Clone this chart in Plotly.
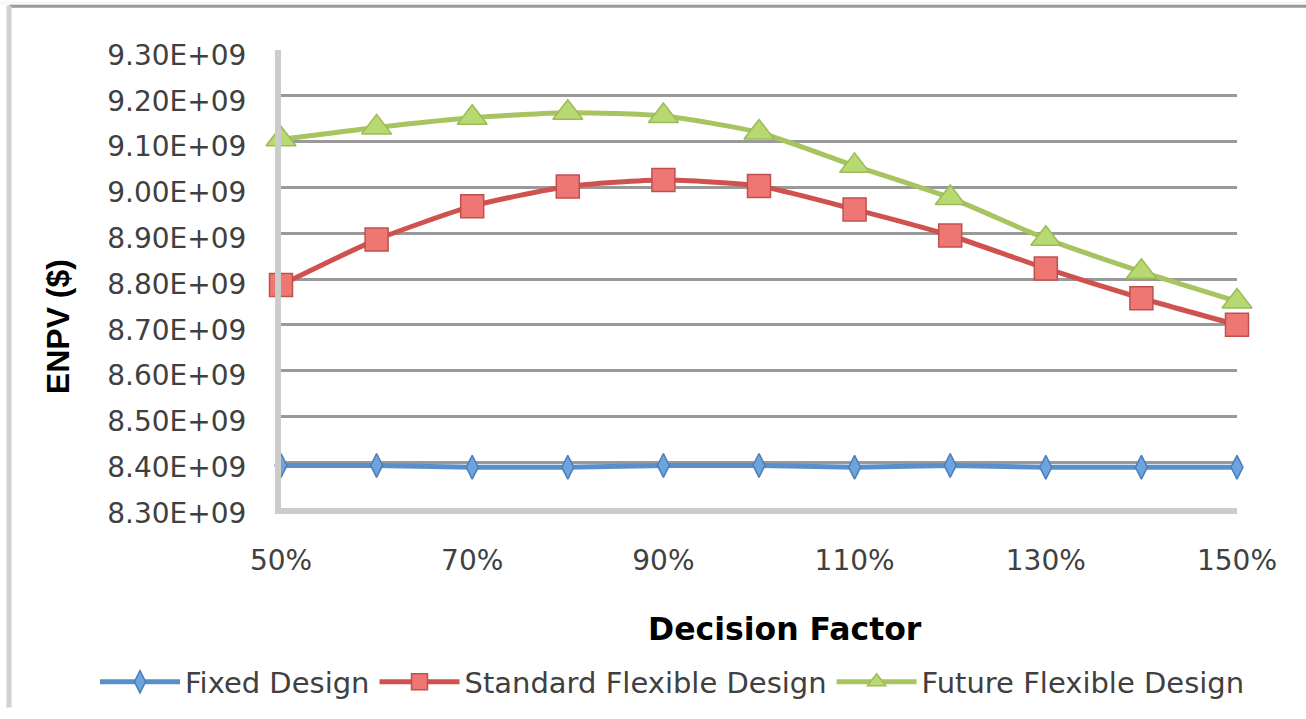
import plotly.graph_objects as go

# ---- data ----
decision_factor = [50, 60, 70, 80, 90, 100, 110, 120, 130, 140, 150]
fixed_design = [8.393e9, 8.393e9, 8.389e9, 8.389e9, 8.393e9, 8.393e9, 8.389e9, 8.393e9, 8.389e9, 8.389e9, 8.389e9]
standard_flexible = [8.787e9, 8.886e9, 8.959e9, 9.002e9, 9.016e9, 9.003e9, 8.952e9, 8.895e9, 8.823e9, 8.758e9, 8.700e9]
future_flexible = [9.105e9, 9.131e9, 9.152e9, 9.163e9, 9.156e9, 9.120e9, 9.047e9, 8.977e9, 8.888e9, 8.816e9, 8.751e9]

x_tick_vals = [50, 70, 90, 110, 130, 150]
x_tick_text = ["50%", "70%", "90%", "110%", "130%", "150%"]
y_tick_vals = [8.3e9, 8.4e9, 8.5e9, 8.6e9, 8.7e9, 8.8e9, 8.9e9, 9.0e9, 9.1e9, 9.2e9, 9.3e9]
y_tick_text = ["8.30E+09", "8.40E+09", "8.50E+09", "8.60E+09", "8.70E+09", "8.80E+09",
               "8.90E+09", "9.00E+09", "9.10E+09", "9.20E+09", "9.30E+09"]

W, H = 1306, 719
L, R, T, B = 281, 1237, 50, 516  # plot area pixel box
PW, PH = R - L, B - T

def px(xp):
    return (xp - L) / PW

def py(yp):
    return (B - yp) / PH

FONT = "DejaVu Sans"
TXT = "#404040"

fig = go.Figure()
fig.add_trace(go.Scatter(
    x=decision_factor, y=fixed_design, name="Fixed Design", mode="lines+markers",
    line=dict(color="#5B8FCB", width=5),
    marker=dict(symbol="diamond-tall", size=17, color="#6FA3DE", line=dict(color="#4A7EBB", width=1.5)),
    cliponaxis=False))
fig.add_trace(go.Scatter(
    x=decision_factor, y=standard_flexible, name="Standard Flexible Design", mode="lines+markers",
    line=dict(color="#D0524F", width=5, shape="spline", smoothing=0.6),
    marker=dict(symbol="square", size=23, color="#EE7773", line=dict(color="#C0504D", width=1.5)),
    cliponaxis=False))
fig.add_trace(go.Scatter(
    x=decision_factor, y=future_flexible, name="Future Flexible Design", mode="lines+markers",
    line=dict(color="#A6C460", width=5, shape="spline", smoothing=0.6),
    marker=dict(symbol="triangle-up", size=26, color="#B8D871", line=dict(color="#9BBB59", width=1.5)),
    cliponaxis=False))

fig.update_layout(
    width=W, height=H,
    margin=dict(l=L, r=W - R, t=T, b=H - B),
    paper_bgcolor="white", plot_bgcolor="white",
    font=dict(family=FONT, size=28, color=TXT),
    showlegend=True,
    legend=dict(orientation="h", x=px(95), y=py(667), xanchor="left", yanchor="top",
                font=dict(family=FONT, size=29, color=TXT), itemwidth=80,
                bgcolor="rgba(0,0,0,0)", tracegroupgap=0),
    xaxis=dict(range=[50, 150], tickvals=x_tick_vals, ticktext=x_tick_text,
               showgrid=False, zeroline=False, showline=True, linecolor="#CCCCCC", linewidth=6,
               ticks="", ticklabelstandoff=22, tickfont=dict(family=FONT, size=28, color=TXT)),
    yaxis=dict(range=[8.3e9, 9.3e9], tickvals=y_tick_vals, ticktext=y_tick_text,
               showgrid=True, gridcolor="#999999", gridwidth=2.5, zeroline=False,
               showline=True, linecolor="#CCCCCC", linewidth=6,
               ticks="", ticklabelstandoff=23, ticklabelshift=5,
               tickfont=dict(family=FONT, size=28, color=TXT)),
    annotations=[
        dict(text="<b>Decision Factor</b>", x=px(785), y=py(639), xref="paper", yref="paper",
             showarrow=False, xanchor="center", yanchor="middle",
             font=dict(family=FONT, size=31.5, color="#000000")),
        dict(text="<b>ENPV ($)</b>", x=px(58), y=py(332), xref="paper", yref="paper",
             showarrow=False, xanchor="center", yanchor="middle", textangle=-90,
             font=dict(family="Liberation Sans", size=32, color="#000000")),
    ],
    shapes=[
        dict(type="rect", xref="paper", yref="paper", x0=px(0), x1=px(W), y0=py(0), y1=py(4),
             fillcolor="#F4F9F9", line=dict(width=0), layer="below"),
        dict(type="line", xref="paper", yref="paper", x0=px(9), x1=px(W), y0=py(5.5), y1=py(5.5),
             line=dict(color="#999999", width=3)),
        dict(type="line", xref="paper", yref="paper", x0=px(9), x1=px(9), y0=py(5), y1=py(H),
             line=dict(color="#D0D0D0", width=5)),
    ],
)

fig.write_html("out.html")
